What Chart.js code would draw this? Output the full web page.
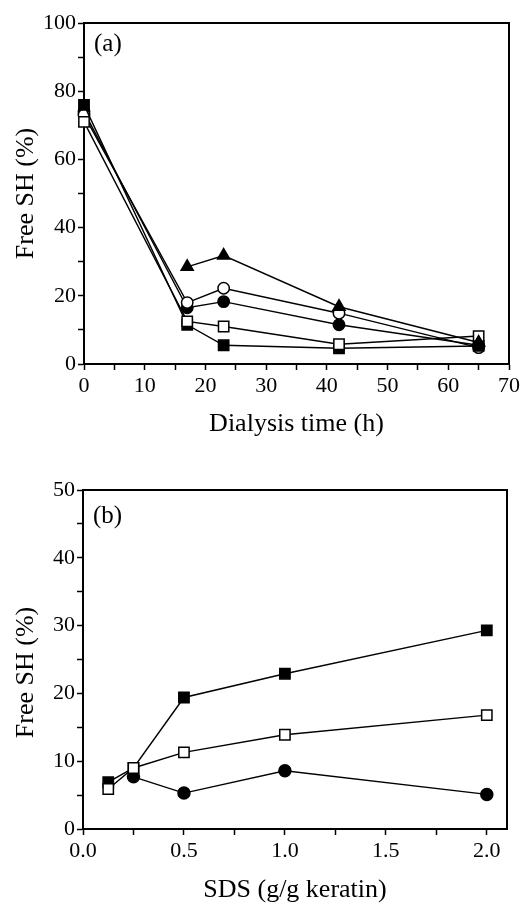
<!DOCTYPE html>
<html>
<head>
<meta charset="utf-8">
<script src="https://cdn.jsdelivr.net/npm/chart.js@4/dist/chart.umd.min.js"></script>
<style>
  html, body { margin: 0; padding: 0; background: #fff; }
  #wrapA { position: absolute; left: 0; top: 0; width: 523px; height: 450px; }
  #wrapB { position: absolute; left: 0; top: 455px; width: 523px; height: 454px; }
</style>
</head>
<body>
<div id="wrapA"><canvas id="chartA"></canvas></div>
<div id="wrapB"><canvas id="chartB"></canvas></div>
<script>
// Panel (a): free SH vs dialysis time
const timeH = [0, 17, 23, 42, 65];
const aFilledSquare = [76, 11.5, 5.5, 4.6, 5.3];
const aOpenSquare   = [71, 12.5, 11, 5.8, 8.2];
const aFilledCircle = [74, 16.5, 18.3, 11.5, 5.5];
const aOpenCircle   = [73, 18, 22.2, 14.9, 4.8];
const aTriangle     = [null, 28.5, 31.8, 16.8, 6.3];
const aXTicks = [0, 5, 10, 15, 20, 25, 30, 35, 40, 45, 50, 55, 60, 65, 70];
const aYTicks = [0, 10, 20, 30, 40, 50, 60, 70, 80, 90, 100];

// Panel (b): free SH vs SDS
const sdsDose = [0.125, 0.25, 0.5, 1.0, 2.0];
const bFilledSquare = [6.9, 9.0, 19.4, 22.9, 29.3];
const bOpenSquare   = [5.9, 9.0, 11.3, 13.9, 16.8];
const bFilledCircle = [null, 7.7, 5.3, 8.6, 5.1];
const bXTicks = [0, 0.25, 0.5, 0.75, 1.0, 1.25, 1.5, 1.75, 2.0];
const bYTicks = [0, 5, 10, 15, 20, 25, 30, 35, 40, 45, 50];

const yTitle = 'Free SH (%)';
const serif = "'Liberation Serif', 'Times New Roman', serif";

function pts(xs, ys) {
    return xs.map((x, i) => ({ x: x, y: ys[i] }));
}

function series(xs, ys, style, filled, radius) {
    return {
        data: pts(xs, ys),
        borderColor: '#000',
        borderWidth: 1.4,
        pointStyle: style,
        pointRadius: radius,
        pointHoverRadius: radius,
        pointBackgroundColor: filled ? '#000' : '#fff',
        pointBorderColor: '#000',
        pointBorderWidth: 1.5,
        clip: false,
        spanGaps: false
    };
}

// frame round the plot and the panel letter
const framePlugin = {
    id: 'frame',
    beforeDatasetsDraw(chart, args, opts) {
        const a = chart.chartArea;
        const ctx = chart.ctx;
        ctx.save();
        ctx.strokeStyle = '#000';
        ctx.lineWidth = 2;
        ctx.strokeRect(a.left, a.top, a.right - a.left, a.bottom - a.top);
        ctx.fillStyle = '#000';
        ctx.font = '25px ' + serif;
        ctx.textBaseline = 'middle';
        ctx.fillText(opts.label, a.left + 10, a.top + opts.dy);
        ctx.restore();
    }
};

function axisCommon(tickValues, min, max) {
    return {
        type: 'linear',
        min: min, max: max,
        afterBuildTicks: s => { s.ticks = tickValues.map(v => ({ value: v })); },
        border: { display: true, color: '#000', width: 2 },
        grid: { drawOnChartArea: false, drawTicks: true, tickLength: 6, tickColor: '#000', tickWidth: 1.5 }
    };
}

function makeChart(id, datasets, cfg) {
    const x = axisCommon(cfg.xTicks, cfg.xMin, cfg.xMax);
    Object.assign(x, {
        ticks: {
            autoSkip: false, maxRotation: 0, padding: 3,
            color: '#000', font: { family: serif, size: 22 },
            callback: cfg.xLabel
        },
        afterFit: s => { s.height = cfg.xHeight; },
        title: {
            display: true, text: cfg.xTitle, color: '#000',
            font: { family: serif, size: 26 }, padding: { top: 0, bottom: cfg.xTitlePad }
        }
    });
    const y = axisCommon(cfg.yTicks, 0, cfg.yMax);
    Object.assign(y, {
        ticks: {
            autoSkip: false, padding: 2,
            color: '#000', font: { family: serif, size: 22 },
            callback: cfg.yLabel
        },
        afterFit: s => { s.width = cfg.yWidth; },
        title: {
            display: true, text: cfg.yTitleText, color: '#000',
            font: { family: serif, size: 26 }, padding: { top: 11, bottom: 0 }
        }
    });
    return new Chart(document.getElementById(id), {
        type: 'line',
        data: { datasets: datasets },
        options: {
            responsive: true,
            maintainAspectRatio: false,
            animation: false,
            layout: { padding: { top: cfg.padTop, right: cfg.padRight, left: 0, bottom: 0 } },
            plugins: {
                legend: { display: false },
                tooltip: { enabled: false },
                frame: { label: cfg.letter, dy: cfg.letterDy }
            },
            scales: { x: x, y: y }
        },
        plugins: [framePlugin]
    });
}

makeChart('chartA', [
    series(timeH, aTriangle, 'triangle', true, 7),
    series(timeH, aOpenSquare, 'rect', false, 7.3),
    series(timeH, aFilledSquare, 'rect', true, 7.3),
    series(timeH, aOpenCircle, 'circle', false, 5.7),
    series(timeH, aFilledCircle, 'circle', true, 5.7)
], {
    xMin: 0, xMax: 70, xTicks: aXTicks,
    xLabel: v => (v % 10 === 0 ? v : ''),
    xHeight: 86, xTitlePad: 10, xTitle: 'Dialysis time (h)',
    yMax: 100, yTicks: aYTicks,
    yLabel: v => (v % 20 === 0 ? v : ''),
    yWidth: 84, yTitleText: yTitle,
    padTop: 23, padRight: 14,
    letter: '(a)', letterDy: 21
});

makeChart('chartB', [
    series(sdsDose, bOpenSquare, 'rect', false, 7.3),
    series(sdsDose, bFilledSquare, 'rect', true, 7.3),
    series(sdsDose, bFilledCircle, 'circle', true, 6)
], {
    xMin: 0, xMax: 2.1, xTicks: bXTicks,
    xLabel: v => (Math.abs(v * 2 - Math.round(v * 2)) < 1e-6 ? v.toFixed(1) : ''),
    xHeight: 80, xTitlePad: 3, xTitle: 'SDS (g/g keratin)',
    yMax: 50, yTicks: bYTicks,
    yLabel: v => (v % 10 === 0 ? v : ''),
    yWidth: 83, yTitleText: yTitle + '    ',
    padTop: 35, padRight: 16,
    letter: '(b)', letterDy: 26
});
</script>
</body>
</html>
